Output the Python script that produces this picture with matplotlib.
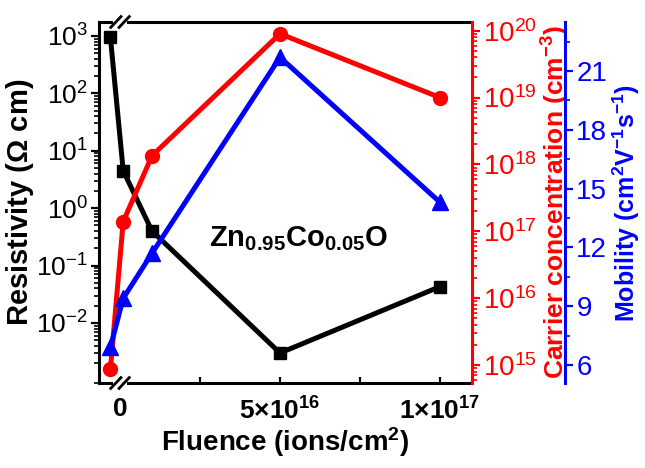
import matplotlib

matplotlib.use("Agg")

import matplotlib.pyplot as plt
from matplotlib.lines import Line2D
from matplotlib.patches import Rectangle
from matplotlib.ticker import FixedLocator, LogLocator, NullFormatter
import matplotlib.transforms as mtransforms


# fluence in ions/cm^2, the pristine sample (0) sits left of the axis break
fluence = [0, 1e15, 1e16, 5e16, 1e17]
resistivity = [950, 4.5, 0.40, 0.003, 0.043]
carrier_conc = [8.7e14, 1.4e17, 1.35e18, 9e19, 1e19]
mobility = [6.9, 9.4, 11.7, 21.7, 14.3]

x_ticks = [0, 5e16, 1e17]
x_tick_labels = ["0", r"5$\times$10$^{16}$", r"1$\times$10$^{17}$"]
mobility_ticks = [6, 9, 12, 15, 18, 21]

PRISTINE_X = -3e15

plt.rcParams["font.family"] = ["Liberation Sans", "DejaVu Sans"]
plt.rcParams["mathtext.fontset"] = "custom"
plt.rcParams["mathtext.rm"] = "Liberation Sans"
plt.rcParams["mathtext.it"] = "Liberation Sans:italic"
plt.rcParams["mathtext.bf"] = "Liberation Sans:bold"
plt.rcParams["mathtext.default"] = "regular"


def style_spine_ticks(ax, color, side, labelsize=20):
	ax.tick_params(
		axis="y",
		which="major",
		direction="out",
		length=6,
		width=1.6,
		colors=color,
		labelsize=labelsize,
		pad=2,
	)
	ax.tick_params(
		axis="y",
		which="minor",
		direction="out",
		length=3.5,
		width=1.2,
		colors=color,
	)
	ax.spines[side].set_color(color)
	ax.spines[side].set_linewidth(2.2)


def add_break(ax, x_break):
	trans = mtransforms.blended_transform_factory(
		ax.transData,
		ax.transAxes,
	)
	half = 2.2e15
	for y in (0, 1):
		ax.add_patch(
			Rectangle(
				(x_break - half, y - 0.012),
				2 * half,
				0.024,
				transform=trans,
				facecolor="white",
				edgecolor="none",
				clip_on=False,
				zorder=20,
			)
		)
		for shift in (-1.3e15, 1.3e15):
			ax.add_line(
				Line2D(
					[x_break + shift - 1.6e15, x_break + shift + 1.6e15],
					[y - 0.015, y + 0.015],
					transform=trans,
					color="black",
					linewidth=2.0,
					clip_on=False,
					zorder=21,
				)
			)


def make_chart(path):
	x_plot = [PRISTINE_X if f == 0 else f for f in fluence]

	fig = plt.figure(figsize=(6.45, 4.68), dpi=100)
	ax = fig.add_axes([0.1535, 0.1816, 0.5783, 0.7714])

	ax.plot(
		x_plot,
		resistivity,
		color="black",
		linewidth=3.6,
		marker="s",
		markersize=9,
		zorder=3,
	)
	ax.set_yscale("log")
	ax.set_ylim(9e-4, 1.75e3)
	ax.set_xlim(-6.56e15, 1.1e17)
	ax.yaxis.set_major_locator(FixedLocator([1e-2, 1e-1, 1, 1e1, 1e2, 1e3]))
	ax.yaxis.set_minor_locator(LogLocator(base=10, subs=range(2, 10), numticks=20))
	ax.yaxis.set_minor_formatter(NullFormatter())
	ax.set_yticklabels(
		[r"10$^{-2}$", r"10$^{-1}$", r"10$^{0}$", r"10$^{1}$", r"10$^{2}$", r"10$^{3}$"]
	)
	style_spine_ticks(ax, "black", "left", labelsize=19)
	for side in ("top", "bottom"):
		ax.spines[side].set_linewidth(2.2)
	ax.spines["right"].set_visible(False)

	ax.set_xticks(x_ticks)
	ax.set_xticklabels(x_tick_labels, fontweight="bold")
	ax.xaxis.set_minor_locator(FixedLocator([2.5e16, 7.5e16]))
	ax.tick_params(
		axis="x",
		which="both",
		direction="in",
		length=4,
		width=1.6,
		labelsize=19,
		pad=10,
	)
	for label in ax.get_xticklabels():
		label.set_fontweight("bold")

	ax.set_xlabel(
		r"Fluence (ions/cm$^{\mathbf{2}}$)",
		fontsize=20,
		fontweight="bold",
		labelpad=1,
	)
	ax.set_ylabel(
		r"Resistivity ($\mathbf{\Omega}$ cm)",
		fontsize=21,
		fontweight="bold",
		labelpad=0,
	)

	ax.text(
		5.6e16,
		0.40,
		r"$\mathbf{Zn_{0.95}Co_{0.05}O}$",
		fontsize=21,
		ha="center",
		va="center",
		transform=mtransforms.blended_transform_factory(ax.transData, ax.transAxes),
	)

	# carrier concentration, red log axis on the right spine
	ax_red = ax.twinx()
	ax_red.plot(
		x_plot,
		carrier_conc,
		color="red",
		linewidth=3.6,
		marker="o",
		markersize=10,
		zorder=3,
	)
	ax_red.set_yscale("log")
	ax_red.set_ylim(5.4e14, 1.35e20)
	ax_red.yaxis.set_major_locator(FixedLocator([1e15, 1e16, 1e17, 1e18, 1e19, 1e20]))
	ax_red.yaxis.set_minor_locator(LogLocator(base=10, subs=range(2, 10), numticks=20))
	ax_red.yaxis.set_minor_formatter(NullFormatter())
	ax_red.set_yticklabels(
		[r"10$^{15}$", r"10$^{16}$", r"10$^{17}$", r"10$^{18}$", r"10$^{19}$", r"10$^{20}$"]
	)
	style_spine_ticks(ax_red, "red", "right")
	for side in ("top", "bottom", "left"):
		ax_red.spines[side].set_visible(False)
	ax_red.set_ylabel(
		r"Carrier concentration (cm$^{\mathbf{-3}}$)",
		fontsize=19,
		fontweight="bold",
		color="red",
		labelpad=2,
	)

	# mobility, blue linear axis offset to the right
	ax_blue = ax.twinx()
	ax_blue.spines["right"].set_position(("axes", 1.25))
	ax_blue.plot(
		x_plot,
		mobility,
		color="blue",
		linewidth=3.6,
		marker="^",
		markersize=11,
		zorder=3,
	)
	ax_blue.set_ylim(5.08, 23.5)
	ax_blue.set_yticks(mobility_ticks)
	ax_blue.yaxis.set_minor_locator(
		FixedLocator([t + 1.5 for t in mobility_ticks])
	)
	style_spine_ticks(ax_blue, "blue", "right")
	for side in ("top", "bottom", "left"):
		ax_blue.spines[side].set_visible(False)
	ax_blue.set_ylabel(
		r"Mobility (cm$^{\mathbf{2}}$V$^{\mathbf{-1}}$s$^{\mathbf{-1}}$)",
		fontsize=18,
		fontweight="bold",
		color="blue",
		labelpad=2,
	)

	add_break(ax_blue, 0)

	fig.savefig(path, dpi=100)
	plt.close(fig)


if __name__ == "__main__":
	make_chart("out.png")
